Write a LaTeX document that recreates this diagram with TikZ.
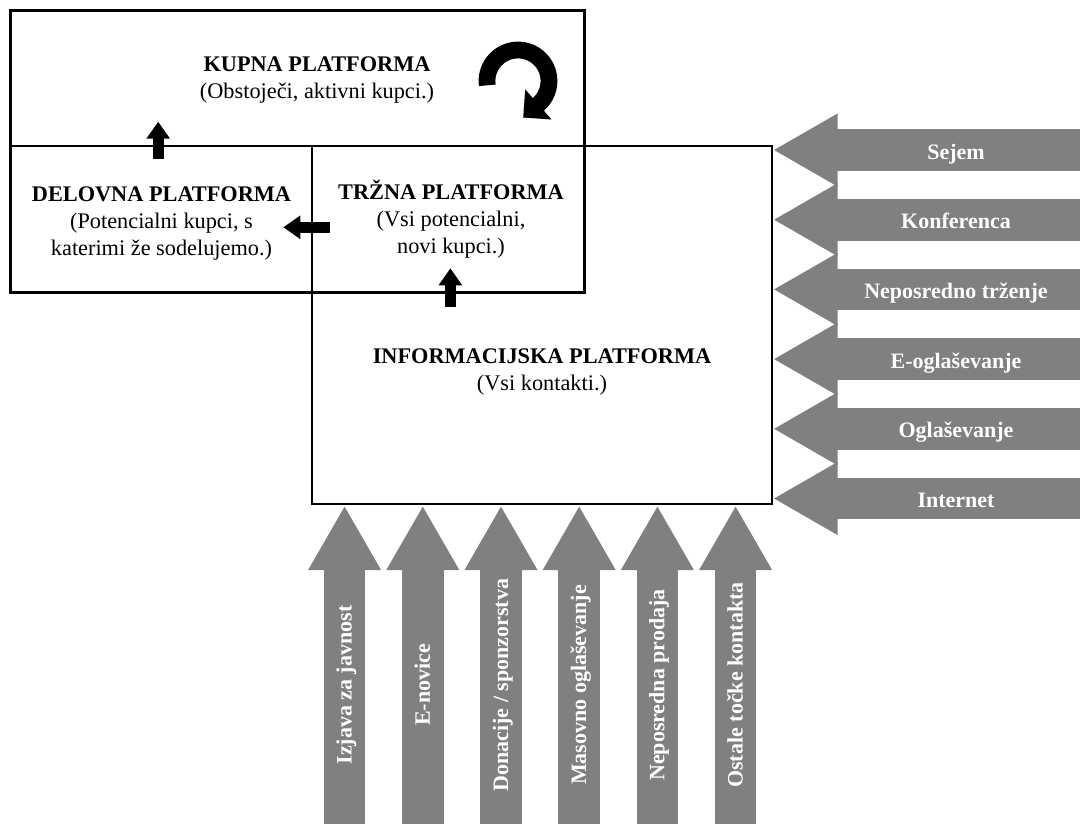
\documentclass[tikz,border=0pt]{standalone}
\usepackage{fontspec}
\setmainfont{Liberation Serif}
\usetikzlibrary{arrows.meta}
\definecolor{arrowgray}{RGB}{128,128,128}
\begin{document}
\begin{tikzpicture}[x=1pt,y=1pt,
  frame/.style={draw=black, line width=2.6pt},
  txt/.style={font=\fontsize{22.3}{27}\selectfont, align=center, anchor=base, inner sep=0pt},
  arrowlabel/.style={font=\fontsize{22}{27}\selectfont\bfseries, text=white, anchor=base, inner sep=0pt},
  bigarrow/.style={draw=arrowgray, line width=41.7pt, -{Triangle[length=64.5pt,width=68pt]}},
  smallarrow/.style={draw=black, line width=10.6pt, -{Triangle[length=17pt,width=22.5pt]}}
]
% canvas
\fill[white] (0,0) rectangle (1080,-823);
\useasboundingbox (0,0) rectangle (1080,-823);

% incoming channels on the right
\foreach \lbl [count=\i] in {Sejem, Konferenca, Neposredno trženje, E-oglaševanje, Oglaševanje, Internet} {
  \pgfmathsetmacro\ty{150+69.7*(\i-1)}
  \coordinate (rs\i) at (1086,-\ty);
  \coordinate (re\i) at (773,-\ty);
  \draw[bigarrow] (rs\i) -- (re\i);
  \node[arrowlabel] (rl\i) at (956,-\ty-9) {\lbl};
}

% incoming channels from below
\foreach \lbl [count=\i] in {Izjava za javnost, E-novice, Donacije / sponzorstva, Masovno oglaševanje, Neposredna prodaja, Ostale točke kontakta} {
  \pgfmathsetmacro\bx{344.6+78.2*(\i-1)}
  \coordinate (bs\i) at (\bx,-829);
  \coordinate (be\i) at (\bx,-505.5);
  \draw[bigarrow] (bs\i) -- (be\i);
  \node[arrowlabel, rotate=90] (bl\i) at (\bx+7,-685) {\lbl};
}

% platform frames
\draw[frame] (10.7,-10.7) rectangle (584.5,-292.7);
\draw[frame] (10.7,-146) -- (584.5,-146);
\draw[frame] (312,-146) rectangle (772,-504);

% platform labels (anchored at the baseline of their last line)
\node[txt] (kupna) at (317,-98.7) {\textbf{KUPNA PLATFORMA}\\(Obstoječi, aktivni kupci.)};
\node[txt] (delovna) at (161.5,-255) {\textbf{DELOVNA PLATFORMA}\\(Potencialni kupci, s\\katerimi že sodelujemo.)};
\node[txt] (trzna) at (451,-253.5) {\textbf{TRŽNA PLATFORMA}\\(Vsi potencialni,\\novi kupci.)};
\node[txt] (info) at (542,-390.5) {\textbf{INFORMACIJSKA PLATFORMA}\\(Vsi kontakti.)};

% transitions between platforms
\coordinate (u1s) at (158.2,-158.5);
\coordinate (u1e) at (158.2,-121.7);
\coordinate (l1s) at (329.5,-227.3);
\coordinate (l1e) at (283.3,-227.3);
\coordinate (u2s) at (450.4,-306.7);
\coordinate (u2e) at (450.4,-268.3);
\draw[smallarrow] (u1s) -- (u1e);
\draw[smallarrow] (l1s) -- (l1e);
\draw[smallarrow] (u2s) -- (u2e);

% repeat-purchase loop
\coordinate (loop) at (518,-81);
\draw[line width=16.8pt] (loop) ++(188:31pt) arc[start angle=188, end angle=-51, radius=31pt];
\fill (525.2,-89.3) -- (551.5,-119.5) -- (523.2,-117.5) -- cycle;
\end{tikzpicture}
\end{document}
